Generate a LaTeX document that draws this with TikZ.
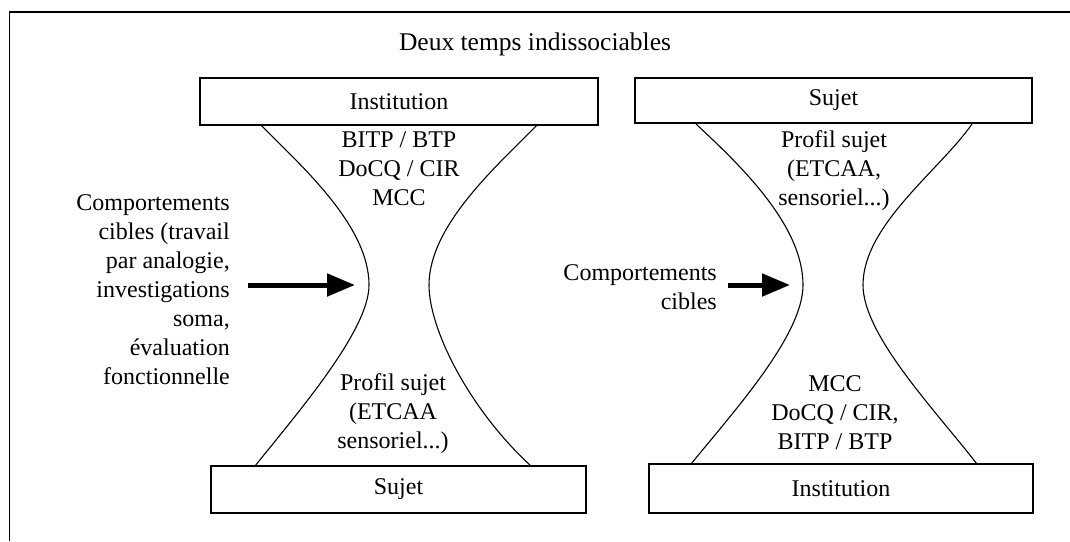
\documentclass[tikz,border=0pt]{standalone}
\usepackage{fontspec}
\setmainfont{Liberation Serif}
\usetikzlibrary{arrows.meta}
\begin{document}
\begin{tikzpicture}[x=1pt,y=-1pt,
  every node/.style={font=\fontsize{24}{29}\selectfont, inner sep=0pt},
  box/.style={draw, line width=1.3pt, minimum width=#1},
  curve/.style={line width=1.1pt},
  bigarrow/.style={line width=5pt, -{Triangle[length=28pt,width=22pt]}}]
\useasboundingbox (0,0) rectangle (1070,541);
% outer frame (extends past the right and bottom edges)
\draw[line width=1.3pt] (9.5,541) -- (9.5,12) -- (1070,12);
\node[font=\fontsize{25.5}{30}\selectfont] (title) at (535,44) {Deux temps indissociables};

% ---------- left hourglass ----------
\node[box=398pt, minimum height=47pt] (lt) at (399,101.5) {Institution};
\node[box=375pt, minimum height=47pt] (lb) at (398.5,489.5) {Sujet};
\coordinate (l1) at (261,125);
\coordinate (l2) at (369,285);
\coordinate (l3) at (255,466);
\coordinate (r1) at (537,125);
\coordinate (r2) at (429,285);
\coordinate (r3) at (531,466);
\draw[curve] (l1) .. controls (300,165) and (369,225) .. (l2)
                  .. controls (369,330) and (300,410) .. (l3);
\draw[curve] (r1) .. controls (498,165) and (429,225) .. (r2)
                  .. controls (429,330) and (470,410) .. (r3);
\node[align=center] (ltop) at (399,169) {BITP / BTP\\DoCQ / CIR\\MCC};
\node[align=center] (lbot) at (393,414) {Profil sujet\\(ETCAA\\sensoriel...)};
\node[align=right, anchor=east] (ltext) at (230,290) {Comportements\\cibles (travail\\par analogie,\\investigations\\soma,\\évaluation\\fonctionnelle};
\coordinate (a1s) at (248,285);
\coordinate (a1e) at (355,285);
\draw[bigarrow] (a1s) -- (a1e);

% ---------- right hourglass ----------
\node[box=397pt, minimum height=45pt] (rt) at (833.5,100.5) {Sujet};
\node[box=384pt, minimum height=49pt] (rb) at (841,488.5) {Institution};
\coordinate (m1) at (696,124);
\coordinate (m2) at (803,285);
\coordinate (m3) at (691,464);
\coordinate (n1) at (972,124);
\coordinate (n2) at (863,285);
\coordinate (n3) at (977,464);
\draw[curve] (m1) .. controls (740,165) and (803,225) .. (m2)
                  .. controls (803,335) and (735,410) .. (m3);
\draw[curve] (n1) .. controls (940,170) and (863,225) .. (n2)
                  .. controls (863,335) and (935,410) .. (n3);
\node[align=center] (rtop) at (834,171) {Profil sujet\\(ETCAA,\\sensoriel...)};
\node[align=center] (rbot) at (835,413) {MCC\\DoCQ / CIR,\\BITP / BTP};
\node[align=right, anchor=east] (rtext) at (717,287) {Comportements\\cibles};
\coordinate (a2s) at (728,285);
\coordinate (a2e) at (790,285);
\draw[bigarrow] (a2s) -- (a2e);
\end{tikzpicture}
\end{document}
